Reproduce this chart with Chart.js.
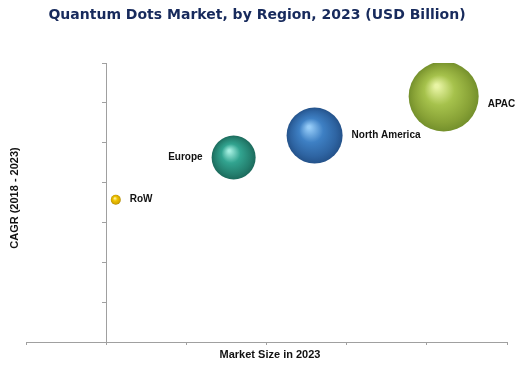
<!DOCTYPE html>
<html>
<head>
<meta charset="utf-8">
<script src="https://cdn.jsdelivr.net/npm/chart.js@4.4.1/dist/chart.umd.min.js"></script>
<style>
  html, body { margin: 0; padding: 0; background: #ffffff; }
  #wrap { width: 518px; height: 367px; position: relative; }
</style>
</head>
<body>
<div id="wrap"><canvas id="c" width="518" height="367"></canvas></div>
<script>
// ---- data ----
const regions = ['RoW', 'Europe', 'North America', 'APAC'];
const marketSize = [0.12, 1.59, 2.6, 4.21];      // x (relative market size 2023)
const cagr = [3.57, 4.63, 5.18, 6.16];            // y (relative CAGR 2018-2023)
const bubbleSize = [5, 22, 28, 35];               // bubble radius
const chartTitle = 'Quantum Dots Market, by Region, 2023 (USD Billion)';
const xTitle = 'Market Size in 2023';
const yTitle = 'CAGR (2018 - 2023)';

// ---- styles ----
const palette = [
  { hi: '#fff4a8', base: '#f0c400', mid: '#d8aa00', dark: '#b08a00' },
  { hi: '#a4eee0', base: '#32a490', mid: '#24806f', dark: '#1c6a5c' },
  { hi: '#96ccf8', base: '#3e80c4', mid: '#2e64a2', dark: '#24528a' },
  { hi: '#e8f4a4', base: '#a6c24c', mid: '#88a236', dark: '#74902c' }
];
const labelSide = ['right', 'left', 'right', 'right'];
const labelDy = [0, 0, 0, 8];

function sphere(ctx) {
  const i = ctx.dataIndex;
  const p = palette[i];
  const chart = ctx.chart;
  if (!chart.chartArea || !chart.scales.x) return p.base;
  const cx = chart.scales.x.getPixelForValue(marketSize[i]);
  const cy = chart.scales.y.getPixelForValue(cagr[i]);
  const r = bubbleSize[i];
  const g = chart.ctx.createRadialGradient(cx - 0.2 * r, cy - 0.3 * r, r * 0.05, cx, cy, r);
  g.addColorStop(0, p.hi);
  g.addColorStop(0.4, p.base);
  g.addColorStop(0.8, p.mid);
  g.addColorStop(1, p.dark);
  return g;
}

const textPlugin = {
  id: 'texts',
  afterDatasetsDraw(chart) {
    const c = chart.ctx;
    const meta = chart.getDatasetMeta(0);
    c.save();
    c.fillStyle = '#111111';
    c.font = 'bold 10px "Liberation Sans", Arial, sans-serif';
    c.textBaseline = 'middle';
    meta.data.forEach((el, i) => {
      const r = bubbleSize[i];
      if (labelSide[i] === 'right') {
        c.textAlign = 'left';
        c.fillText(regions[i], el.x + r + 9, el.y + labelDy[i]);
      } else {
        c.textAlign = 'right';
        c.fillText(regions[i], el.x - r - 9, el.y + labelDy[i]);
      }
    });
    c.restore();
  },
  afterDraw(chart) {
    const c = chart.ctx;
    c.save();
    c.textBaseline = 'middle';
    c.textAlign = 'center';
    c.fillStyle = '#172a5c';
    c.font = 'bold 14px "DejaVu Sans", Verdana, sans-serif';
    c.fillText(chartTitle, 257, 15);
    c.fillStyle = '#111111';
    c.font = 'bold 11px "Liberation Sans", Arial, sans-serif';
    c.fillText(xTitle, 270, 355);
    c.translate(15, 198);
    c.rotate(-Math.PI / 2);
    c.fillText(yTitle, 0, 0);
    c.restore();
  }
};

new Chart(document.getElementById('c'), {
  type: 'bubble',
  data: {
    datasets: [{
      label: 'Regions',
      data: regions.map((r, i) => ({ x: marketSize[i], y: cagr[i], r: bubbleSize[i] })),
      backgroundColor: sphere,
      borderWidth: 0
    }]
  },
  options: {
    responsive: false,
    animation: false,
    events: [],
    layout: { autoPadding: false, padding: { left: 26, right: 11, top: 63, bottom: 22 } },
    plugins: { legend: { display: false }, tooltip: { enabled: false }, title: { display: false } },
    scales: {
      x: {
        type: 'linear', min: -1, max: 5,
        ticks: { display: false, stepSize: 1 },
        grid: { drawOnChartArea: false, drawTicks: true, tickLength: 3, color: '#a0a0a0' },
        border: { color: '#a0a0a0' }
      },
      y: {
        type: 'linear', min: 0, max: 7,
        position: { x: 0 },
        ticks: { display: false, stepSize: 1 },
        grid: { drawOnChartArea: false, drawTicks: true, tickLength: 4, color: '#a0a0a0' },
        border: { color: '#a0a0a0' }
      }
    }
  },
  plugins: [textPlugin]
});
</script>
</body>
</html>
